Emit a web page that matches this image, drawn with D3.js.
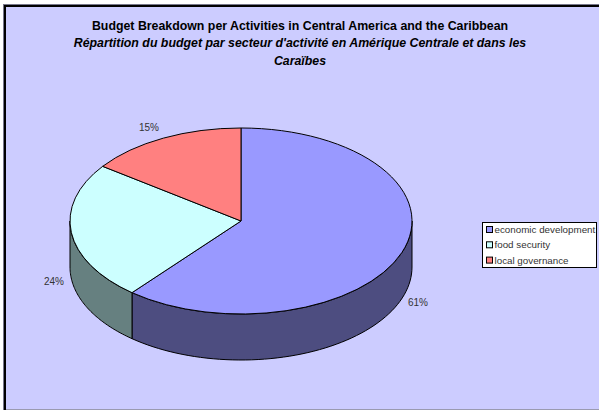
<!DOCTYPE html>
<html>
<head>
<meta charset="utf-8">
<script src="https://cdn.jsdelivr.net/npm/d3@7"></script>
<style>
html, body { margin: 0; padding: 0; background: #fff; }
svg { display: block; }
text { font-family: "Liberation Sans", Arial, sans-serif; }
</style>
</head>
<body>
<div id="chart"></div>
<script>
var categories = ["economic development", "food security", "local governance"];
var shares = [61, 24, 15];
var topColors = ["#9999ff", "#ccffff", "#ff8080"];
var wallColors = ["#4d4d80", "#668080", "#804040"];
var titleLines = [
  "Budget Breakdown per Activities in Central America and the Caribbean",
  "Répartition du budget par secteur d'activité en Amérique Centrale et dans les",
  "Caraïbes"
];

var w = 599, h = 410;
var cx = 241, cy = 221, rx = 171, ry = 93, depth = 46;

var svg = d3.select("#chart").append("svg").attr("width", w).attr("height", h);

// background and frame
svg.append("rect").attr("width", w).attr("height", h).attr("fill", "#fff");
svg.append("rect").attr("x", 3).attr("y", 4).attr("width", w).attr("height", h).attr("fill", "#77778a");
svg.append("rect").attr("x", 4).attr("y", 5).attr("width", w).attr("height", h).attr("fill", "#000");
svg.append("rect").attr("x", 6).attr("y", 7).attr("width", w).attr("height", h).attr("fill", "#ccccff");
svg.append("rect").attr("x", 6).attr("y", 409).attr("width", w).attr("height", 1).attr("fill", "#9a9ab0");

// title
svg.selectAll("text.title")
   .data(titleLines)
   .enter()
   .append("text")
   .attr("class", "title")
   .attr("x", 300)
   .attr("y", function(d, i) { return 29.5 + i * 17.5; })
   .attr("text-anchor", "middle")
   .attr("font-size", 12.35)
   .attr("font-weight", "bold")
   .attr("font-style", function(d, i) { return i ? "italic" : "normal"; })
   .text(function(d) { return d; });

// pie, squashed to an ellipse
var pie = d3.pie().sort(null).value(function(d) { return d; });
var slices = pie(shares);
var arc = d3.arc().innerRadius(0).outerRadius(rx);

function rimPoint(a) {
  return [cx + rx * Math.sin(a), cy - ry * Math.cos(a)];
}
var line = d3.line();

// side walls, only the front half of the ellipse shows
var walls = svg.append("g");
slices.forEach(function(s, i) {
  var a0 = Math.max(s.startAngle, Math.PI / 2);
  var a1 = Math.min(s.endAngle, Math.PI * 1.5);
  if (a1 <= a0) return;
  var upper = d3.range(0, 61).map(function(k) { return rimPoint(a0 + (a1 - a0) * k / 60); });
  var lower = upper.slice().reverse().map(function(p) { return [p[0], p[1] + depth]; });
  walls.append("path")
     .attr("d", line(upper.concat(lower)) + "Z")
     .attr("fill", wallColors[i])
     .attr("stroke", "#000")
     .attr("stroke-width", 1);
});

svg.append("g")
   .attr("transform", "translate(" + cx + "," + cy + ") scale(1," + (ry / rx) + ")")
   .selectAll("path")
   .data(slices)
   .enter()
   .append("path")
   .attr("d", arc)
   .attr("fill", function(d, i) { return topColors[i]; })
   .attr("stroke", "#000")
   .attr("stroke-width", 1)
   .attr("vector-effect", "non-scaling-stroke");

// data labels
var labelPos = [[418, 306], [54, 284.5], [149, 131]];
svg.selectAll("text.pct")
   .data(shares)
   .enter()
   .append("text")
   .attr("class", "pct")
   .attr("x", function(d, i) { return labelPos[i][0]; })
   .attr("y", function(d, i) { return labelPos[i][1]; })
   .attr("text-anchor", "middle")
   .attr("font-size", 10)
   .attr("fill", "#333")
   .text(function(d) { return d + "%"; });

// legend
var legend = svg.append("g");
legend.append("rect").attr("x", 482.5).attr("y", 222.5).attr("width", 114).attr("height", 45)
   .attr("fill", "#fff").attr("stroke", "#000");
var rows = legend.selectAll("g")
   .data(categories)
   .enter()
   .append("g")
   .attr("transform", function(d, i) { return "translate(0," + (i * 15.3) + ")"; });
rows.append("rect").attr("x", 486.5).attr("y", 226.5).attr("width", 6).attr("height", 6)
   .attr("fill", function(d, i) { return topColors[i]; }).attr("stroke", "#000");
rows.append("text").attr("x", 494.5).attr("y", 233).attr("font-size", 9.8).attr("fill", "#333")
   .text(function(d) { return d; });
</script>
</body>
</html>
